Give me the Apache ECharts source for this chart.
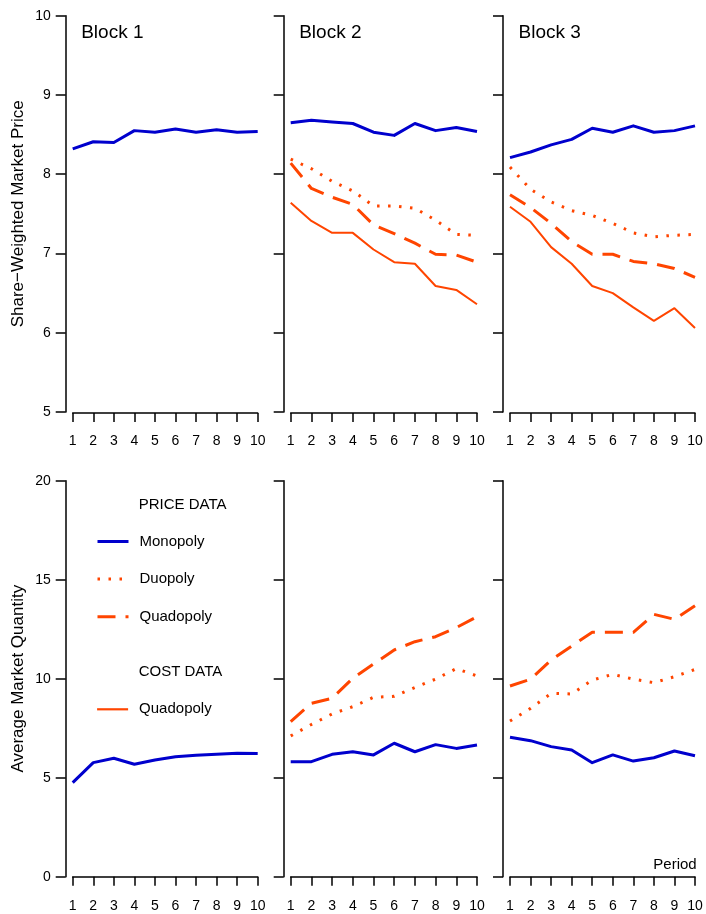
<!DOCTYPE html>
<html>
<head>
<meta charset="utf-8">
<script src="https://cdn.jsdelivr.net/npm/echarts@6/dist/echarts.min.js"></script>
<style>
html,body{margin:0;padding:0;background:#fff;}
#chart{width:706px;height:914px;}
</style>
</head>
<body>
<div id="chart"></div>
<script>
// ---- data ----
const periods = [1, 2, 3, 4, 5, 6, 7, 8, 9, 10];
const priceTicks = [5, 6, 7, 8, 9, 10];
const qtyTicks = [0, 5, 10, 15, 20];
const blockNames = ['Block 1', 'Block 2', 'Block 3'];

const b1PriceMono = [8.32, 8.41, 8.40, 8.55, 8.53, 8.57, 8.53, 8.56, 8.53, 8.54];
const b2PriceMono = [8.65, 8.68, 8.66, 8.64, 8.53, 8.49, 8.64, 8.55, 8.59, 8.54];
const b2PriceDuo  = [8.19, 8.07, 7.91, 7.79, 7.60, 7.60, 7.57, 7.42, 7.24, 7.23];
const b2PriceQuad = [8.14, 7.82, 7.71, 7.62, 7.36, 7.25, 7.13, 6.99, 6.98, 6.89];
const b2PriceCost = [7.64, 7.41, 7.26, 7.26, 7.05, 6.89, 6.87, 6.59, 6.54, 6.36];
const b3PriceMono = [8.21, 8.28, 8.37, 8.44, 8.58, 8.53, 8.61, 8.53, 8.55, 8.61];
const b3PriceDuo  = [8.09, 7.81, 7.65, 7.54, 7.48, 7.38, 7.26, 7.21, 7.23, 7.24];
const b3PriceQuad = [7.74, 7.58, 7.38, 7.15, 6.99, 6.99, 6.90, 6.87, 6.81, 6.70];
const b3PriceCost = [7.59, 7.40, 7.08, 6.87, 6.59, 6.50, 6.32, 6.15, 6.31, 6.06];

const b1QtyMono = [4.75, 5.76, 5.98, 5.68, 5.89, 6.06, 6.13, 6.18, 6.23, 6.22];
const b2QtyMono = [5.81, 5.81, 6.18, 6.31, 6.15, 6.74, 6.31, 6.67, 6.48, 6.65];
const b2QtyDuo  = [7.11, 7.69, 8.22, 8.59, 9.06, 9.11, 9.56, 9.98, 10.51, 10.14];
const b2QtyQuad = [7.83, 8.76, 9.01, 10.02, 10.74, 11.45, 11.87, 12.12, 12.58, 13.13];
const b3QtyMono = [7.04, 6.87, 6.57, 6.40, 5.76, 6.15, 5.84, 6.01, 6.35, 6.11];
const b3QtyDuo  = [7.86, 8.50, 9.26, 9.23, 9.93, 10.22, 9.98, 9.80, 10.10, 10.47];
const b3QtyQuad = [9.63, 9.97, 10.94, 11.65, 12.34, 12.34, 12.34, 13.25, 13.00, 13.69];

// ---- layout / style ----
const FONT = '"Liberation Sans", Arial, Helvetica, sans-serif';
const BLUE = '#0000CD';
const RED = '#FF4500';
const cols = [{left: 72.7, width: 185}, {left: 290.7, width: 186.3}, {left: 510, width: 185}];
const rows = [{top: 15.7, height: 396.3}, {top: 480.7, height: 396}];

const styles = {
  Monopoly: {color: BLUE, width: 3, type: 'solid'},
  Duopoly: {color: RED, width: 3, type: [2.5, 8.5]},
  Quadopoly: {color: RED, width: 3, type: [18, 10]},
  'Quadopoly (cost)': {color: RED, width: 2, type: 'solid'}
};

const grids = [], xAxes = [], yAxes = [], series = [];
rows.forEach((r, ri) => {
  cols.forEach((c, ci) => {
    const idx = ri * 3 + ci;
    grids.push({left: c.left, width: c.width, top: r.top, height: r.height});
    xAxes.push({
      type: 'value', gridIndex: idx, min: periods[0], max: periods[periods.length - 1], interval: 1,
      offset: 1,
      axisLine: {show: true, lineStyle: {color: '#000', width: 1.5}},
      axisTick: {show: true, length: 9, lineStyle: {color: '#000', width: 1.5}},
      axisLabel: {show: true, margin: 21, fontSize: 14, color: '#000', fontFamily: FONT},
      splitLine: {show: false}
    });
    const ticks = ri === 0 ? priceTicks : qtyTicks;
    yAxes.push({
      type: 'value', gridIndex: idx, min: ticks[0], max: ticks[ticks.length - 1], interval: ticks[1] - ticks[0],
      offset: 7,
      name: ci === 0 ? (ri === 0 ? 'Share\u2212Weighted Market Price' : 'Average Market Quantity') : '',
      nameLocation: 'middle', nameRotate: 90, nameGap: 39,
      nameTextStyle: {fontSize: 17, color: '#000', fontFamily: FONT},
      axisLine: {show: true, lineStyle: {color: '#000', width: 1.5}},
      axisTick: {show: true, length: 10, lineStyle: {color: '#000', width: 1.5}},
      axisLabel: {show: ci === 0, margin: 15, fontSize: 14, color: '#000', fontFamily: FONT},
      splitLine: {show: false}
    });
  });
});

function addSeries(name, values, idx) {
  const s = styles[name];
  series.push({
    name: name, type: 'line', xAxisIndex: idx, yAxisIndex: idx,
    data: periods.map((p, i) => [p, values[i]]),
    symbol: 'none', silent: true,
    lineStyle: {color: s.color, width: s.width, type: s.type, cap: 'butt', join: 'round'},
    itemStyle: {color: s.color}
  });
}
// top row (price)
addSeries('Monopoly', b1PriceMono, 0);
addSeries('Monopoly', b2PriceMono, 1);
addSeries('Duopoly', b2PriceDuo, 1);
addSeries('Quadopoly', b2PriceQuad, 1);
addSeries('Quadopoly (cost)', b2PriceCost, 1);
addSeries('Monopoly', b3PriceMono, 2);
addSeries('Duopoly', b3PriceDuo, 2);
addSeries('Quadopoly', b3PriceQuad, 2);
addSeries('Quadopoly (cost)', b3PriceCost, 2);
// bottom row (quantity)
addSeries('Monopoly', b1QtyMono, 3);
addSeries('Monopoly', b2QtyMono, 4);
addSeries('Duopoly', b2QtyDuo, 4);
addSeries('Quadopoly', b2QtyQuad, 4);
addSeries('Monopoly', b3QtyMono, 5);
addSeries('Duopoly', b3QtyDuo, 5);
addSeries('Quadopoly', b3QtyQuad, 5);

const titles = blockNames.map((b, i) => ({
  text: b, left: cols[i].left + 8.5, top: 23, padding: 0,
  textStyle: {fontSize: 19, fontWeight: 'normal', color: '#000', fontFamily: FONT}
}));
titles.push({text: 'PRICE DATA', left: 138.7, top: 497, padding: 0,
  textStyle: {fontSize: 15, fontWeight: 'normal', color: '#000', fontFamily: FONT}});
titles.push({text: 'COST DATA', left: 138.7, top: 664.5, padding: 0,
  textStyle: {fontSize: 15, fontWeight: 'normal', color: '#000', fontFamily: FONT}});
titles.push({text: 'Period', right: 9.3, top: 857.5, padding: 0,
  textStyle: {fontSize: 15, fontWeight: 'normal', color: '#000', fontFamily: FONT}});

const legendText = {fontSize: 15, color: '#000', fontFamily: FONT, padding: [0, 0, 0, 6]};
const hiddenSymbol = {color: 'rgba(0,0,0,0)', borderColor: 'rgba(0,0,0,0)', borderWidth: 0};
const chart = echarts.init(document.getElementById('chart'), null, {renderer: 'canvas'});
chart.setOption({
  animation: false,
  backgroundColor: '#fff',
  title: titles,
  legend: [
    {data: ['Monopoly', 'Duopoly', 'Quadopoly'], orient: 'vertical', left: 96, top: 534,
     itemWidth: 31, itemHeight: 16, itemGap: 22.6, padding: 0, selectedMode: false,
     itemStyle: hiddenSymbol, lineStyle: {width: 3}, textStyle: legendText},
    {data: ['Quadopoly (cost)'], orient: 'vertical', left: 96, top: 701.8,
     itemWidth: 31, itemHeight: 16, padding: 0, selectedMode: false,
     itemStyle: hiddenSymbol, lineStyle: {width: 2.2},
     formatter: () => 'Quadopoly', textStyle: legendText}
  ],
  grid: grids,
  xAxis: xAxes,
  yAxis: yAxes,
  series: series
});
</script>
</body>
</html>
